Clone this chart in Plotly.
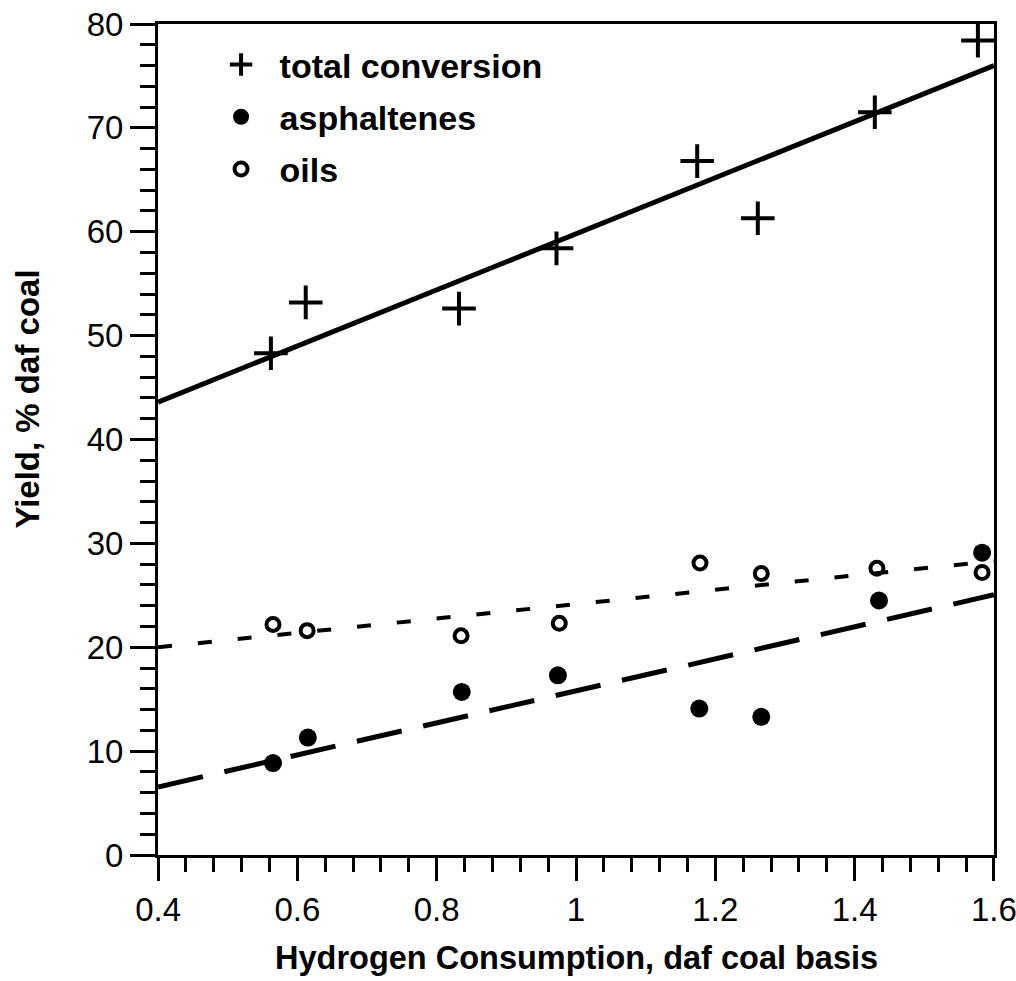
import plotly.graph_objects as go

# ---- data ----
h2_total = [0.562, 0.612, 0.832, 0.972, 1.174, 1.261, 1.429, 1.577]
total_conversion = [48.3, 53.2, 52.6, 58.4, 66.8, 61.3, 71.5, 78.4]

h2_asph = [0.565, 0.615, 0.836, 0.974, 1.177, 1.266, 1.435, 1.583]
asphaltenes = [8.85, 11.3, 15.7, 17.3, 14.1, 13.3, 24.5, 29.1]

h2_oils = [0.565, 0.614, 0.835, 0.976, 1.178, 1.266, 1.432, 1.583]
oils = [22.2, 21.6, 21.1, 22.3, 28.1, 27.1, 27.6, 27.2]

fit_x = [0.4, 1.6]
total_fit = [43.6, 76.0]
asph_fit = [6.55, 25.05]
oils_fit = [20.0, 28.3]

x_tickvals = [0.4, 0.6, 0.8, 1.0, 1.2, 1.4, 1.6]
x_ticktext = ["0.4", "0.6", "0.8", "1", "1.2", "1.4", "1.6"]
y_tickvals = [0, 10, 20, 30, 40, 50, 60, 70, 80]

FONT = "Liberation Sans"
BLACK = "black"

fig = go.Figure()

# fitted lines
fig.add_trace(go.Scatter(x=fit_x, y=total_fit, mode="lines",
                         line=dict(color=BLACK, width=5), showlegend=False))
fig.add_trace(go.Scatter(x=fit_x, y=oils_fit, mode="lines",
                         line=dict(color=BLACK, width=4, dash="14px,26px"), showlegend=False))
fig.add_trace(go.Scatter(x=fit_x, y=asph_fit, mode="lines",
                         line=dict(color=BLACK, width=5, dash="46px,22px"), showlegend=False))

# data markers
fig.add_trace(go.Scatter(x=h2_total, y=total_conversion, mode="markers", name="total conversion",
                         legendgroup="a",
                         marker=dict(symbol="cross-thin", size=24, color=BLACK,
                                     line=dict(color=BLACK, width=4))))
fig.add_trace(go.Scatter(x=h2_asph, y=asphaltenes, mode="markers", name="asphaltenes",
                         legendgroup="b",
                         marker=dict(symbol="circle", size=18, color=BLACK,
                                     line=dict(width=0))))
fig.add_trace(go.Scatter(x=h2_oils, y=oils, mode="markers", name="oils",
                         legendgroup="c",
                         marker=dict(symbol="circle-open", size=13, color=BLACK,
                                     line=dict(color=BLACK, width=4))))

fig.update_layout(
    width=1016, height=981,
    margin=dict(l=158, r=22, t=24, b=126, autoexpand=False),
    paper_bgcolor="white", plot_bgcolor="white",
    font=dict(family=FONT, color=BLACK, size=32),
    showlegend=True,
    legend=dict(x=0.0533, y=0.9856, xanchor="left", yanchor="top",
                bgcolor="rgba(0,0,0,0)", borderwidth=0,
                font=dict(family=FONT, size=34, weight="bold", color=BLACK),
                tracegroupgap=5, itemwidth=67),
    xaxis=dict(range=[0.3999, 1.6001], showgrid=False, zeroline=False,
               showline=True, linecolor=BLACK, linewidth=3, mirror=True,
               automargin=False,
               ticks="outside", ticklen=23, tickwidth=3, tickcolor=BLACK,
               tickvals=x_tickvals, ticktext=x_ticktext,
               ticklabeloverflow="allow",
               tickfont=dict(family=FONT, size=33, color=BLACK),
               minor=dict(dtick=0.04, tick0=0.4, ticks="outside", ticklen=14,
                          tickwidth=3, tickcolor=BLACK, showgrid=False)),
    yaxis=dict(range=[0, 80], showgrid=False, zeroline=False,
               showline=True, linecolor=BLACK, linewidth=3, mirror=True,
               automargin=False,
               ticks="outside", ticklen=25, tickwidth=3, tickcolor=BLACK,
               tickvals=y_tickvals,
               tickfont=dict(family=FONT, size=33, color=BLACK),
               minor=dict(dtick=2, tick0=0, ticks="outside", ticklen=15,
                          tickwidth=3, tickcolor=BLACK, showgrid=False)),
    annotations=[
        dict(text="Hydrogen Consumption, daf coal basis", xref="paper", yref="paper",
             x=0.5, y=-0.124, xanchor="center", yanchor="middle", showarrow=False,
             font=dict(family=FONT, size=32.5, weight="bold", color=BLACK)),
        dict(text="Yield, % daf coal", xref="paper", yref="paper",
             x=-0.1555, y=0.548, xanchor="center", yanchor="middle", showarrow=False,
             textangle=-90,
             font=dict(family=FONT, size=33, weight="bold", color=BLACK)),
    ],
)

fig.write_html("out.html")
